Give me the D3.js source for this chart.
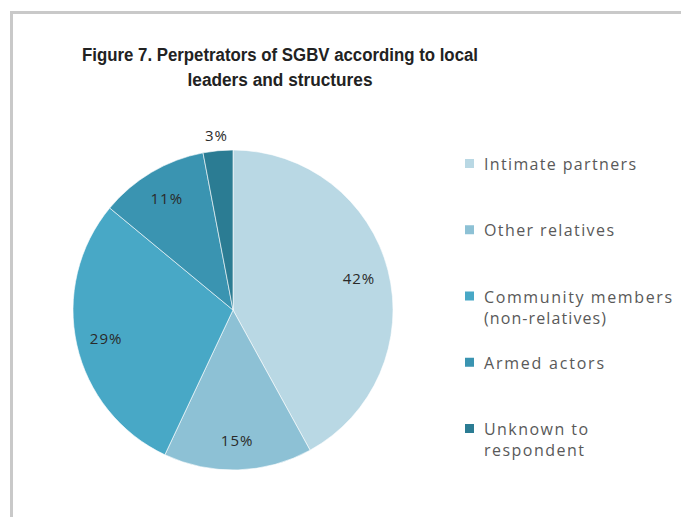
<!DOCTYPE html>
<html>
<head>
<meta charset="utf-8">
<script src="https://cdn.jsdelivr.net/npm/d3@7"></script>
<style>
  html, body { margin: 0; padding: 0; background: #ffffff; }
  svg { display: block; }
</style>
</head>
<body>
<svg id="chart" width="681" height="517"></svg>
<script>
// Perpetrators of SGBV, share reported by local leaders and structures
const categories = [
  "Intimate partners",
  "Other relatives",
  "Community members (non-relatives)",
  "Armed actors",
  "Unknown to respondent"
];
const legendLines = [
  ["Intimate partners"],
  ["Other relatives"],
  ["Community members", "(non-relatives)"],
  ["Armed actors"],
  ["Unknown to", "respondent"]
];
const values = [42, 15, 29, 11, 3];
const colors = ["#b9d8e4", "#8dc1d5", "#48a8c6", "#3a94b1", "#2b7c93"];
const titleLines = [
  "Figure 7. Perpetrators of SGBV according to local",
  "leaders and structures"
];

const svg = d3.select("#chart");
const titleFont = "'Liberation Sans', Arial, sans-serif";
const bodyFont = "'Open Sans', 'DejaVu Sans', sans-serif";

// outer frame (runs off the right and bottom edges)
svg.append("path")
  .attr("d", "M11.5,700 V12.5 H700")
  .attr("fill", "none")
  .attr("stroke", "#c9c9c9")
  .attr("stroke-width", 3);

// title, condensed to a narrow heading width
const titleWidths = [396, 185];
svg.append("g").selectAll("text")
  .data(titleLines)
  .join("text")
  .attr("x", 280)
  .attr("y", (d, i) => 61 + i * 25)
  .attr("text-anchor", "middle")
  .attr("font-family", titleFont)
  .attr("font-weight", "bold")
  .attr("font-size", 18)
  .attr("textLength", (d, i) => titleWidths[i])
  .attr("lengthAdjust", "spacingAndGlyphs")
  .attr("fill", "#222222")
  .text(d => d);

// pie
const cx = 233, cy = 310, radius = 160;
const pie = d3.pie().sort(null).value(d => d)(values);
const arc = d3.arc().innerRadius(0).outerRadius(radius);
const color = d3.scaleOrdinal().domain(categories).range(colors);

const g = svg.append("g").attr("transform", `translate(${cx},${cy})`);
g.selectAll("path")
  .data(pie)
  .join("path")
  .attr("d", arc)
  .attr("fill", (d, i) => color(categories[i]))
  .attr("stroke", "#ffffff")
  .attr("stroke-width", 0.6);

// value labels: inside for most slices, outside for the smallest
const labelArc = d3.arc().innerRadius(130).outerRadius(130);
const outerArc = d3.arc().innerRadius(176).outerRadius(176);
g.selectAll("text")
  .data(pie)
  .join("text")
  .attr("transform", d => `translate(${(d.data < 5 ? outerArc : labelArc).centroid(d)})`)
  .attr("text-anchor", "middle")
  .attr("dominant-baseline", "central")
  .attr("font-family", bodyFont)
  .attr("font-size", 15)
  .attr("letter-spacing", 1)
  .attr("fill", "#2a2a2a")
  .text(d => d.data + "%");

// legend
const legendWidths = [[152], [130], [188, 122], [120], [104, 100]];
const legendY = d3.scalePoint().domain(categories).range([164, 429]);
const lg = svg.append("g").selectAll("g")
  .data(categories)
  .join("g")
  .attr("transform", d => `translate(465,${legendY(d)})`);
lg.append("rect")
  .attr("x", 0).attr("y", -5)
  .attr("width", 9).attr("height", 9)
  .attr("fill", d => color(d));
lg.each(function(d, i) {
  d3.select(this).selectAll("text")
    .data(legendLines[i])
    .join("text")
    .attr("x", 19)
    .attr("y", (t, j) => j * 21)
    .attr("dominant-baseline", "central")
    .attr("font-family", bodyFont)
    .attr("font-size", 16)
    .attr("textLength", (t, j) => legendWidths[i][j])
    .attr("lengthAdjust", "spacing")
    .attr("fill", "#595959")
    .text(t => t);
});
</script>
</body>
</html>
